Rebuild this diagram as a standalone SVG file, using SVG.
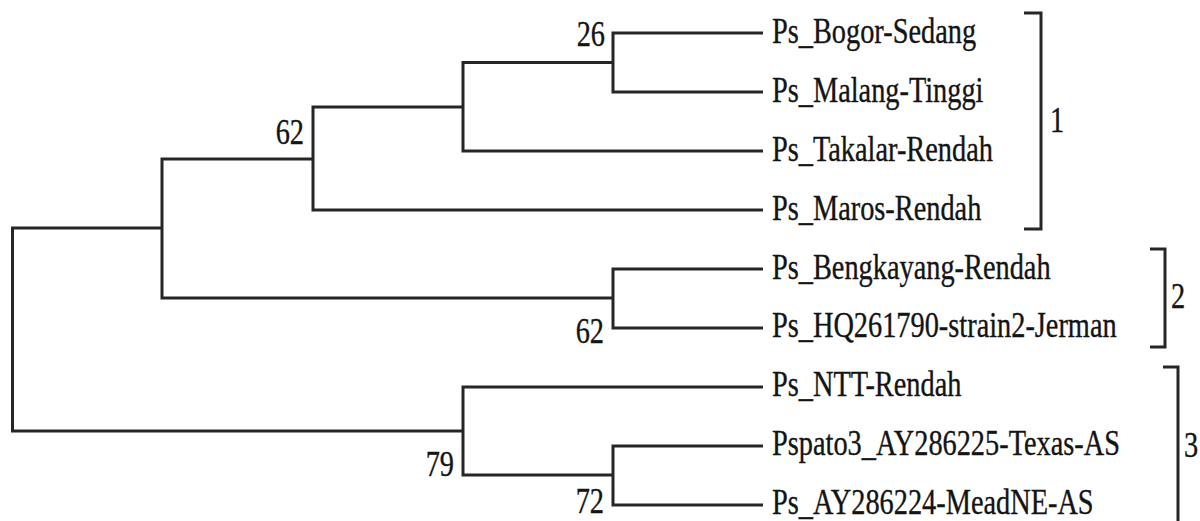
<svg xmlns="http://www.w3.org/2000/svg" width="1200" height="521" viewBox="0 0 1200 521">
  <style>
    .br { fill: none; stroke: #262626; stroke-width: 3; stroke-linejoin: miter; }
    .lbl { font-family: "Liberation Serif", "Times New Roman", serif; font-size: 35px; fill: #141414; stroke: #141414; stroke-width: 0.35; }
    .bs { font-family: "Liberation Serif", "Times New Roman", serif; font-size: 35px; fill: #141414; stroke: #141414; stroke-width: 0.35; text-anchor: end; }
  </style>
  <rect width="1200" height="521" fill="#ffffff"/>

  <!-- tree branches -->
  <g id="connectors">
    <path class="br" d="M162,228 H12.5 V431 H463"/>
    <path class="br" d="M313,159 H162 V298 H613"/>
    <path class="br" d="M463,107 H313 V210 H763"/>
    <path class="br" d="M613,62.5 H463 V151 H763"/>
    <path class="br" d="M763,33 H613 V92 H763"/>
    <path class="br" d="M763,269 H613 V328 H763"/>
    <path class="br" d="M763,387 H463 V475 H613"/>
    <path class="br" d="M763,446 H613 V505 H763"/>
  </g>

  <!-- bootstrap values -->
  <g id="bootstrap">
    <text class="bs" transform="translate(605,46) scale(0.81,1)">26</text>
    <text class="bs" transform="translate(304,144) scale(0.81,1)">62</text>
    <text class="bs" transform="translate(604,343) scale(0.81,1)">62</text>
    <text class="bs" transform="translate(454,476) scale(0.81,1)">79</text>
    <text class="bs" transform="translate(604,513) scale(0.81,1)">72</text>
  </g>

  <!-- leaves -->
  <g id="leaf-bogor"><text class="lbl" transform="translate(772,43) scale(0.81,1)">Ps_Bogor-Sedang</text></g>
  <g id="leaf-malang"><text class="lbl" transform="translate(772,102) scale(0.81,1)">Ps_Malang-Tinggi</text></g>
  <g id="leaf-takalar"><text class="lbl" transform="translate(772,161) scale(0.81,1)">Ps_Takalar-Rendah</text></g>
  <g id="leaf-maros"><text class="lbl" transform="translate(772,220) scale(0.81,1)">Ps_Maros-Rendah</text></g>
  <g id="leaf-bengkayang"><text class="lbl" transform="translate(772,279) scale(0.81,1)">Ps_Bengkayang-Rendah</text></g>
  <g id="leaf-hq261790"><text class="lbl" transform="translate(772,337) scale(0.81,1)">Ps_HQ261790-strain2-Jerman</text></g>
  <g id="leaf-ntt"><text class="lbl" transform="translate(772,396) scale(0.81,1)">Ps_NTT-Rendah</text></g>
  <g id="leaf-ay286225"><text class="lbl" transform="translate(772,455) scale(0.81,1)">Pspato3_AY286225-Texas-AS</text></g>
  <g id="leaf-ay286224"><text class="lbl" transform="translate(772,514) scale(0.81,1)">Ps_AY286224-MeadNE-AS</text></g>

  <!-- cluster brackets -->
  <g id="cluster-1">
    <path class="br" d="M1024,13 H1041 V229 H1024"/>
    <text class="lbl" transform="translate(1050,132) scale(0.81,1)">1</text>
  </g>
  <g id="cluster-2">
    <path class="br" d="M1150,249 H1165 V347 H1150"/>
    <text class="lbl" transform="translate(1171,308) scale(0.81,1)">2</text>
  </g>
  <g id="cluster-3">
    <path class="br" d="M1163,367 H1178 V530"/>
    <text class="lbl" transform="translate(1184,457) scale(0.81,1)">3</text>
  </g>
</svg>
